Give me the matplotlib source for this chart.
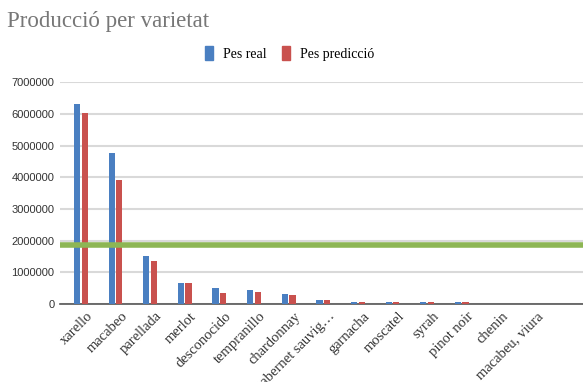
import numpy as np
import matplotlib
matplotlib.use('Agg')
import matplotlib.pyplot as plt

varietats = ['xarello', 'macabeo', 'parellada', 'merlot', 'desconocido', 'tempranillo',
             'chardonnay', 'cabernet sauvig…', 'garnacha', 'moscatel', 'syrah',
             'pinot noir', 'chenin', 'macabeu, viura']
pes_real = [6300000, 4750000, 1530000, 680000, 500000, 430000,
            320000, 140000, 50000, 50000, 50000, 50000, 0, 0]
pes_prediccio = [6030000, 3920000, 1350000, 680000, 350000, 390000,
                 280000, 130000, 50000, 50000, 50000, 50000, 0, 0]
llindar = 1860000

blue = '#4a7fc1'
red = '#c9514e'
serif = 'Liberation Serif'

fig = plt.figure(figsize=(5.83, 3.82), dpi=100)
ax = fig.add_axes([0.103, 0.204, 0.897, 0.581])

x = np.arange(len(varietats))
w = 0.18
ax.bar(x - 0.11, pes_real, w, color=blue, zorder=3)
ax.bar(x + 0.11, pes_prediccio, w, color=red, zorder=3)

ax.axhline(llindar, color='#8db654', lw=4, zorder=4)

ax.set_xlim(-0.6, 14.5)
ax.set_ylim(0, 7000000)
ax.set_yticks(np.arange(0, 7000001, 1000000))
ax.set_yticklabels([str(v) for v in range(0, 7000001, 1000000)],
                   fontsize=8, family='Liberation Sans', color='#333333')
ax.yaxis.grid(True, color='#d9d9d9', lw=1.5, zorder=0)
ax.set_xticks(x + 0.15)
ax.set_xticklabels(varietats, rotation=45, ha='right', rotation_mode='anchor',
                   fontsize=10.5, family=serif, color='#333333')
ax.tick_params(axis='both', length=0, pad=4)
for s in ['top', 'right', 'left']:
    ax.spines[s].set_visible(False)
ax.spines['bottom'].set_color('#555555')
ax.spines['bottom'].set_linewidth(1.2)

fig.text(0.012, 0.945, 'Producció per varietat', fontsize=16.5, family=serif,
         color='#777777', va='center')

handles = [plt.Rectangle((0, 0), 1, 1, color=blue), plt.Rectangle((0, 0), 1, 1, color=red)]
fig.legend(handles, ['Pes real', 'Pes predicció'], loc='center', bbox_to_anchor=(0.497, 0.86),
           ncol=2, frameon=False, prop={'family': serif, 'size': 10},
           handlelength=0.6, handleheight=1.2, handletextpad=0.7, columnspacing=1.1)

fig.savefig('out.png', dpi=100)
